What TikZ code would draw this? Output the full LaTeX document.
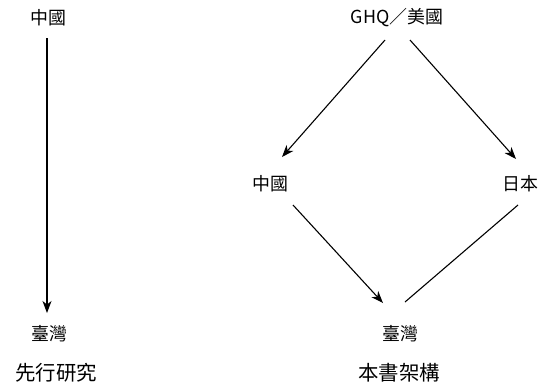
\documentclass[tikz,border=0pt]{standalone}
\usepackage{fontspec}
\setmainfont{Noto Sans CJK TC}
\usetikzlibrary{arrows.meta}
\begin{document}
\begin{tikzpicture}[x=1bp,y=-1bp,
  lbl/.style={inner sep=1bp,font=\fontsize{18}{20}\selectfont},
  captxt/.style={inner sep=1bp,font=\fontsize{20.5}{23}\selectfont},
  arr/.style={line width=1.1bp,-{Stealth[length=12bp,width=9bp,inset=3.5bp]}},
  ln/.style={line width=1.1bp}]
\useasboundingbox (0,0) rectangle (538,390);
\node[lbl] (lc) at (48,18) {中國};
\node[lbl] (lt) at (49,334) {臺灣};
\node[captxt] (lcap) at (56,373) {先行研究};
\node[lbl] (ghq) at (397,18) {GHQ／美國};
\node[lbl] (rc) at (270,184) {中國};
\node[lbl] (rj) at (520,184) {日本};
\node[lbl] (rt) at (400,334) {臺灣};
\node[captxt] (rcap) at (399,373) {本書架構};
\coordinate (a1) at (47,38);
\coordinate (a2) at (47,313);
\draw[arr] (a1) -- (a2);
\coordinate (g1) at (385,40);
\coordinate (g2) at (282,157);
\draw[arr] (g1) -- (g2);
\coordinate (g3) at (410,40);
\coordinate (g4) at (516,159);
\draw[arr] (g3) -- (g4);
\coordinate (c1) at (293,205);
\coordinate (c2) at (383,303);
\draw[arr] (c1) -- (c2);
\coordinate (j1) at (518,205);
\coordinate (j2) at (405,302);
\draw[ln] (j1) -- (j2);
\end{tikzpicture}
\end{document}
